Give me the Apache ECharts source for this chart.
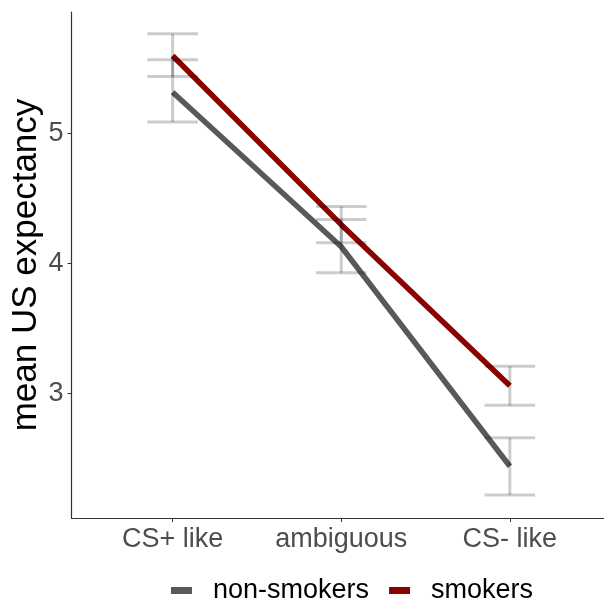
<!DOCTYPE html>
<html>
<head>
<meta charset="utf-8">
<script src="https://cdn.jsdelivr.net/npm/echarts@6/dist/echarts.min.js"></script>
<style>html,body{margin:0;padding:0;background:#fff}#c{width:604px;height:604px}</style>
</head>
<body>
<div id="c"></div>
<script>
var categories = ['CS+ like', 'ambiguous', 'CS- like'];
var seriesNames = ['non-smokers', 'smokers'];
var nonSmokersMean = [5.32, 4.13, 2.44];
var nonSmokersLow = [5.09, 3.93, 2.22];
var nonSmokersHigh = [5.57, 4.34, 2.66];
var smokersMean = [5.60, 4.30, 3.06];
var smokersLow = [5.44, 4.16, 2.91];
var smokersHigh = [5.77, 4.44, 3.21];
var yTicks = [3, 4, 5];

var chart = echarts.init(document.getElementById('c'), null, {renderer: 'canvas'});

function pts(mean) { return mean.map(function (v, i) { return [i + 1, v]; }); }
function errData(low, high) { return low.map(function (v, i) { return [i + 1, v, high[i]]; }); }

function renderErr(params, api) {
  var x = api.value(0);
  var lo = api.coord([x, api.value(1)]);
  var hi = api.coord([x, api.value(2)]);
  var hw = api.size([0.15, 0])[0];
  var st = {stroke: 'rgba(0,0,0,0.2)', lineWidth: 3};
  return {
    type: 'group',
    children: [
      {type: 'line', shape: {x1: lo[0], y1: lo[1], x2: hi[0], y2: hi[1]}, style: st},
      {type: 'line', shape: {x1: lo[0] - hw, y1: lo[1], x2: lo[0] + hw, y2: lo[1]}, style: st},
      {type: 'line', shape: {x1: hi[0] - hw, y1: hi[1], x2: hi[0] + hw, y2: hi[1]}, style: st}
    ]
  };
}

var colors = ['#595959', '#8b0000'];

chart.setOption({
  animation: false,
  backgroundColor: '#ffffff',
  grid: {left: 71.5, top: 12, right: -7, bottom: 86, containLabel: false, outerBoundsMode: 'none'},
  legend: {
    data: seriesNames.map(function (n, i) { return {name: n, itemStyle: {color: colors[i]}}; }),
    left: 166, top: 572,
    icon: 'rect', itemWidth: 21, itemHeight: 7, itemGap: 20,
    textStyle: {fontFamily: 'Liberation Sans', fontSize: 27, color: '#000', padding: [0, 0, 0, 16]}
  },
  xAxis: {
    type: 'value', min: 0.4, max: 3.6,
    splitLine: {show: false},
    axisLine: {show: true, onZero: false, lineStyle: {color: '#333', width: 1.2}},
    axisTick: {show: true, length: 4, lineStyle: {color: '#333'}, customValues: [1, 2, 3]},
    axisLabel: {
      customValues: [1, 2, 3],
      formatter: function (v) { return categories[Math.round(v) - 1] || ''; },
      fontFamily: 'Liberation Sans', fontSize: 27, color: '#4d4d4d', margin: 8
    }
  },
  yAxis: {
    type: 'value', min: 2.042, max: 5.937,
    name: 'mean US expectancy', nameLocation: 'middle', nameGap: 28, nameMoveOverlap: false,
    nameTextStyle: {fontFamily: 'Liberation Sans', fontSize: 35, color: '#000'},
    splitLine: {show: false},
    axisLine: {show: true, onZero: false, lineStyle: {color: '#333', width: 1.2}},
    axisTick: {show: true, length: 4, lineStyle: {color: '#333'}, customValues: yTicks},
    axisLabel: {
      customValues: yTicks,
      fontFamily: 'Liberation Sans', fontSize: 27, color: '#4d4d4d', margin: 8
    }
  },
  series: [
    {name: seriesNames[0], type: 'line', data: pts(nonSmokersMean), showSymbol: false, symbol: 'none',
      lineStyle: {color: colors[0], width: 5.5}, itemStyle: {color: colors[0]}, z: 2},
    {name: seriesNames[1], type: 'line', data: pts(smokersMean), showSymbol: false, symbol: 'none',
      lineStyle: {color: colors[1], width: 5.5}, itemStyle: {color: colors[1]}, z: 2},
    {name: 'err-ns', type: 'custom', data: errData(nonSmokersLow, nonSmokersHigh), renderItem: renderErr, z: 3, silent: true},
    {name: 'err-s', type: 'custom', data: errData(smokersLow, smokersHigh), renderItem: renderErr, z: 3, silent: true}
  ]
});
</script>
</body>
</html>
